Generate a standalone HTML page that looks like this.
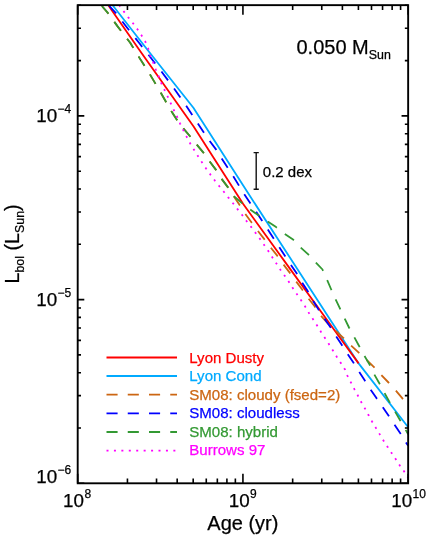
<!DOCTYPE html>
<html><head><meta charset="utf-8"><title>0.050 Msun</title>
<style>
html,body{margin:0;padding:0;background:#fff;}
#p{position:relative;width:429px;height:537px;background:#fff;overflow:hidden;font-family:"Liberation Sans",sans-serif;}
</style></head><body><div id="p">
<svg width="429" height="537" viewBox="0 0 429 537" style="position:absolute;left:0;top:0;will-change:transform">
<defs><clipPath id="c"><rect x="77.7" y="5.15" width="330.45" height="478.15000000000003"/></clipPath></defs>
<g clip-path="url(#c)" fill="none" stroke-width="1.8" stroke-linejoin="round">
<path d="M91.3,-21.0 L113.2,6.0 L147.6,50.0 L193.4,107.8 L243.2,185.6 L358.6,363.4 L408.2,427.3" stroke="#00aaff"/>
<path d="M91.3,-18.5 L108.8,6.0 L139.4,50.0 L193.6,126.4 L243.2,204.0 L285.0,261.9 L328.5,322.0 L358.6,363.4" stroke="#ff0000"/>
<path d="M101.9,6.0 L107.6,12.6 L117.6,26.4 L130.2,42.8 L138.8,56.9 L150.1,74.6 L160.8,92.8 L171.4,111.2 L177.0,119.9 L183.3,128.3 L190.2,136.5 L196.7,144.6 L203.2,152.3 L209.5,161.2 L215.8,169.6 L221.4,178.6 L228.0,187.4 L233.9,196.4 L239.3,204.6 L244.5,212.8 L251.4,222.2 L257.8,230.8 L264.1,238.9 L270.7,247.5 L277.4,255.9 L283.3,264.3 L289.5,272.4 L296.1,281.4 L302.0,289.2 L308.3,298.3 L314.6,306.2 L320.8,315.6 L328.0,323.6 L335.8,330.9 L343.3,337.8 L350.9,345.4 L358.5,352.4 L368.9,362.1 L374.0,367.1 L381.3,375.1 L388.5,382.5 L395.5,390.2 L402.2,398.2 L408.2,405.4" stroke="#cc6612" stroke-dasharray="11.05 10.12" stroke-dashoffset="1"/>
<path d="M109.4,6.0 L115.7,12.8 L125.2,25.2 L139.0,42.8 L148.2,54.4 L161.4,71.4 L174.0,88.4 L186.0,105.6 L197.7,123.3 L209.1,140.3 L216.0,149.4 L222.0,158.9 L233.4,176.5 L244.2,194.2 L255.9,211.4 L267.7,229.3 L279.2,247.1 L290.7,264.6 L296.3,272.8 L302.0,282.5 L307.7,291.1 L313.0,300.6 L318.4,309.4 L324.3,318.4 L330.1,326.7 L336.2,336.4 L341.4,344.3 L347.5,353.8 L353.2,362.2 L358.9,371.4 L364.5,380.1 L370.4,389.4 L376.1,397.6 L382.7,407.0 L388.3,415.2 L394.3,424.4 L400.1,432.9 L405.6,442.1 L408.2,445.8" stroke="#0000ff" stroke-dasharray="11.05 10.12" stroke-dashoffset="1"/>
<path d="M101.9,6.0 L107.6,12.6 L117.6,26.4 L130.2,42.8 L138.8,56.9 L150.1,74.6 L160.8,92.8 L171.4,111.2 L177.0,119.9 L183.3,128.3 L190.2,136.5 L196.7,144.6 L203.2,152.3 L209.5,161.2 L215.8,169.6 L221.4,178.6 L228.0,187.4 L233.9,196.3 L241.4,202.6 L250.2,209.6 L258.4,215.2 L267.7,221.6 L276.1,227.1 L284.8,233.9 L293.4,239.8 L300.6,247.5 L308.5,254.7 L315.9,262.6 L322.5,269.5 L327.2,280.2 L331.0,289.0 L335.6,299.4 L339.8,308.2 L344.6,318.3 L349.0,327.5 L354.3,337.2 L359.1,346.0 L364.5,355.9 L369.6,364.6 L374.3,374.5 L379.3,383.2 L384.6,393.2 L389.2,401.5 L395.0,411.4 L400.1,420.3 L405.6,429.7 L408.2,434.4" stroke="#339933" stroke-dasharray="11.05 10.12" stroke-dashoffset="1"/>
<path d="M119.5,6.0 L123.9,11.6 L128.3,17.4 L133.0,23.3 L137.4,29.2 L141.6,35.5 L145.3,41.6 L148.2,48.5 L150.2,55.5 L153.3,62.6 L155.8,69.5 L158.7,76.4 L161.4,83.4 L164.6,90.1 L167.7,96.6 L170.8,103.4 L173.8,110.0 L177.0,116.5 L180.1,123.6 L183.3,130.2 L186.7,136.9 L190.2,143.5 L194.0,149.7 L197.9,156.0 L201.9,162.2 L206.0,168.4 L210.4,174.6 L214.8,180.5 L219.3,186.2 L224.0,192.0 L228.4,197.6 L233.2,203.5 L237.7,209.4 L242.3,215.2 L246.7,221.3 L251.1,226.9 L255.6,233.0 L260.0,238.9 L264.0,244.8 L268.3,251.0 L272.4,257.4 L276.4,263.5 L280.4,269.8 L284.7,275.8 L288.8,281.7 L292.8,288.1 L297.0,294.3 L301.1,300.3 L305.2,306.6 L308.9,312.9 L313.0,319.2 L316.9,325.2 L320.9,331.8 L324.8,337.8 L328.9,344.1 L332.9,350.4 L336.7,356.7 L340.2,362.0 L345.0,369.6 L347.5,375.9 L351.0,382.6 L354.4,389.2 L358.0,395.8 L361.2,402.0 L365.0,408.6 L368.6,415.2 L372.2,421.8 L376.0,428.1 L379.8,434.4 L383.6,440.7 L387.6,446.9 L391.6,453.0 L395.8,459.3 L399.8,465.5 L404.0,471.3 L408.2,477.7" stroke="#ff00ff" stroke-dasharray="2 5.4" stroke-dashoffset="1"/>
</g>
<rect x="77.7" y="5.15" width="330.45" height="478.15000000000003" fill="none" stroke="#000" stroke-width="1.9"/>
<path d="M77.70,483.3 v-9.5 M77.70,5.15 v9.5 M127.44,483.3 v-4.8 M127.44,5.15 v4.8 M156.53,483.3 v-4.8 M156.53,5.15 v4.8 M177.18,483.3 v-4.8 M177.18,5.15 v4.8 M193.19,483.3 v-4.8 M193.19,5.15 v4.8 M206.27,483.3 v-4.8 M206.27,5.15 v4.8 M217.33,483.3 v-4.8 M217.33,5.15 v4.8 M226.91,483.3 v-4.8 M226.91,5.15 v4.8 M235.36,483.3 v-4.8 M235.36,5.15 v4.8 M242.93,483.3 v-9.5 M242.93,5.15 v9.5 M292.66,483.3 v-4.8 M292.66,5.15 v4.8 M321.76,483.3 v-4.8 M321.76,5.15 v4.8 M342.40,483.3 v-4.8 M342.40,5.15 v4.8 M358.41,483.3 v-4.8 M358.41,5.15 v4.8 M371.50,483.3 v-4.8 M371.50,5.15 v4.8 M382.56,483.3 v-4.8 M382.56,5.15 v4.8 M392.14,483.3 v-4.8 M392.14,5.15 v4.8 M400.59,483.3 v-4.8 M400.59,5.15 v4.8 M408.15,483.3 v-9.5 M408.15,5.15 v9.5 M77.7,483.30 h6.6 M408.15,483.30 h-6.6 M77.7,428.00 h3.3 M408.15,428.00 h-3.3 M77.7,395.65 h3.3 M408.15,395.65 h-3.3 M77.7,372.70 h3.3 M408.15,372.70 h-3.3 M77.7,354.90 h3.3 M408.15,354.90 h-3.3 M77.7,340.35 h3.3 M408.15,340.35 h-3.3 M77.7,328.06 h3.3 M408.15,328.06 h-3.3 M77.7,317.40 h3.3 M408.15,317.40 h-3.3 M77.7,308.01 h3.3 M408.15,308.01 h-3.3 M77.7,299.60 h6.6 M408.15,299.60 h-6.6 M77.7,244.30 h3.3 M408.15,244.30 h-3.3 M77.7,211.95 h3.3 M408.15,211.95 h-3.3 M77.7,189.00 h3.3 M408.15,189.00 h-3.3 M77.7,171.20 h3.3 M408.15,171.20 h-3.3 M77.7,156.65 h3.3 M408.15,156.65 h-3.3 M77.7,144.36 h3.3 M408.15,144.36 h-3.3 M77.7,133.70 h3.3 M408.15,133.70 h-3.3 M77.7,124.31 h3.3 M408.15,124.31 h-3.3 M77.7,115.90 h6.6 M408.15,115.90 h-6.6 M77.7,60.60 h3.3 M408.15,60.60 h-3.3 M77.7,28.25 h3.3 M408.15,28.25 h-3.3 M77.7,5.30 h3.3 M408.15,5.30 h-3.3" stroke="#000" stroke-width="1.6" fill="none"/>
<path d="M256.2,152.6 V189.3 M253.6,152.6 h5.2 M253.6,189.3 h5.2" stroke="#111" stroke-width="1.4" fill="none"/>
<path d="M106.5,357.5 H177" stroke="#ff0000" stroke-width="1.8" fill="none"/>
<path d="M106.5,376.0 H177" stroke="#00aaff" stroke-width="1.8" fill="none"/>
<path d="M106.5,394.7 H177" stroke="#cc6612" stroke-width="1.8" fill="none" stroke-dasharray="11.1 10.15"/>
<path d="M106.5,413.4 H177" stroke="#0000ff" stroke-width="1.8" fill="none" stroke-dasharray="11.1 10.15"/>
<path d="M106.5,432.0 H177" stroke="#339933" stroke-width="1.8" fill="none" stroke-dasharray="11.1 10.15"/>
<path d="M106.5,450.7 H177" stroke="#ff00ff" stroke-width="1.8" fill="none" stroke-dasharray="2 5.43"/>
<g font-family="Liberation Sans, sans-serif" stroke-width="0.25" stroke-linejoin="round"><text x="189.3" y="362.5" font-size="15.05" fill="#ff0000" stroke="#ff0000" >Lyon Dusty</text>
<text x="189.3" y="381.2" font-size="15.05" fill="#00aaff" stroke="#00aaff" >Lyon Cond</text>
<text x="189.3" y="399.8" font-size="15.05" fill="#cc6612" stroke="#cc6612" >SM08: cloudy (fsed=2)</text>
<text x="189.3" y="418.3" font-size="15.05" fill="#0000ff" stroke="#0000ff" >SM08: cloudless</text>
<text x="189.3" y="436.8" font-size="15.05" fill="#339933" stroke="#339933" >SM08: hybrid</text>
<text x="189.3" y="455.3" font-size="15.05" fill="#ff00ff" stroke="#ff00ff" >Burrows 97</text>
<text x="296.5" y="53.8" font-size="20.0" fill="#000" stroke="#000" >0.050 M<tspan font-size="12.4" dy="4.8">Sun</tspan></text>
<text x="262.8" y="177" font-size="15.0" fill="#000" stroke="#000" >0.2 dex</text>
<text x="36.3" y="122.2" font-size="18.8" fill="#000" stroke="#000" >10<tspan font-size="12" dy="-9" dx="0.4">&#8722;4</tspan></text>
<text x="36.3" y="305.9" font-size="18.8" fill="#000" stroke="#000" >10<tspan font-size="12" dy="-9" dx="0.4">&#8722;5</tspan></text>
<text x="36.3" y="483.1" font-size="18.8" fill="#000" stroke="#000" >10<tspan font-size="12" dy="-9" dx="0.4">&#8722;6</tspan></text>
<text x="63.1" y="507.4" font-size="18.8" fill="#000" stroke="#000" >10<tspan font-size="12" dy="-9" dx="0.4">8</tspan></text>
<text x="228.8" y="507.4" font-size="18.8" fill="#000" stroke="#000" >10<tspan font-size="12" dy="-9" dx="0.4">9</tspan></text>
<text x="391.2" y="507.4" font-size="18.8" fill="#000" stroke="#000" >10<tspan font-size="12" dy="-9" dx="0.4">10</tspan></text>
<text x="207.3" y="530" font-size="20.0" fill="#000" stroke="#000" >Age (yr)</text>
<text x="0" y="0" font-size="19.8" fill="#000" stroke="#000" transform="translate(19.3,283.6) rotate(-90)">L<tspan font-size="12.4" dy="5">bol</tspan><tspan dy="-5"> (L</tspan><tspan font-size="12.4" dy="5">Sun</tspan><tspan dy="-5">)</tspan></text></g>
</svg>

</div></body></html>
